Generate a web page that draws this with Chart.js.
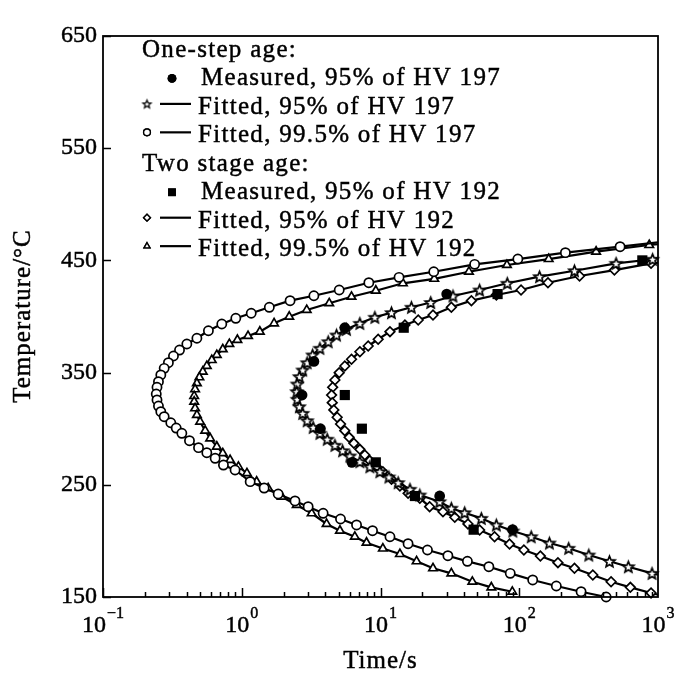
<!DOCTYPE html>
<html>
<head>
<meta charset="utf-8">
<script src="https://cdn.jsdelivr.net/npm/chart.js@4.4.0/dist/chart.umd.min.js"></script>
<style>
  html, body { margin: 0; padding: 0; background: #fff; }
  #wrap { width: 692px; height: 679px; }
</style>
</head>
<body>
<div id="wrap"><canvas id="ttt"></canvas></div>
<script>
// ticks
const timeTicks = [0.1, 1, 10, 100, 1000];
const timeExp = ['\u22121', '0', '1', '2', '3'];
const tempTicks = [150, 250, 350, 450, 550, 650];

// one-step age, measured 95% of HV 197
const meas197T = [420, 390, 360, 330, 300, 270, 240, 210];
const meas197t = [30.0, 5.53, 3.31, 2.72, 3.69, 6.22, 26.7, 89.5];

// two stage age, measured 95% of HV 192
const meas192T = [450, 420, 390, 330, 300, 270, 240, 210];
const meas192t = [771, 69.8, 14.7, 5.53, 7.34, 9.25, 17.7, 46.9];

// fitted 95% of HV 197 (stars)
const fit95_197T = [452, 451.0, 447.4, 440.8, 435.5, 429.6, 423.6, 418.3, 412.5, 408.2, 403.4, 399.3, 393.9, 388.6, 383.5, 377.5, 371.7, 365.7, 358.8, 352.3, 346.4, 339.8, 333.0, 326.2, 319.6, 313.7, 307.1, 301.2, 295.9, 290.6, 285.2, 280.4, 275.7, 270.6, 266.1, 261.7, 257.0, 251.9, 246.0, 240.9, 234.9, 229.1, 225.1, 220.1, 214.2, 208.8, 203.7, 198.1, 193.4, 187.4, 181.8, 177.0, 171.1, 169.8];
const fit95_197t = [1000, 914, 499, 250, 140, 82.0, 51.8, 33.3, 23.0, 16.7, 12.0, 9.10, 7.10, 5.69, 4.82, 4.20, 3.66, 3.24, 2.96, 2.75, 2.60, 2.51, 2.49, 2.51, 2.60, 2.75, 2.96, 3.27, 3.66, 4.13, 4.69, 5.33, 6.01, 7.10, 8.38, 9.89, 11.5, 13.4, 16.3, 19.2, 26.7, 32.4, 40.4, 53.3, 68.4, 89.9, 122, 165, 227, 317, 447, 611, 906, 1000];

// fitted 99.5% of HV 197 (circles)
const fit995_197T = [466, 462.2, 456.9, 451.2, 446.5, 439.9, 434.9, 430.1, 423.6, 418.5, 414.1, 408.2, 402.9, 398.4, 393.3, 387.3, 380.6, 375.5, 370.1, 364.8, 358.8, 353.8, 347.9, 341.9, 336.9, 330.9, 325.6, 320.2, 315.2, 310.7, 305.3, 300.6, 295.9, 289.3, 283.1, 278.6, 273.6, 267.6, 263.2, 252.8, 247.1, 241.8, 235.6, 230.5, 224.6, 219.5, 214.2, 209.1, 203.7, 197.5, 191.9, 186.8, 181.8, 177.0, 171.1, 165.2, 159.8, 154.7, 150];
const fit995_197t = [1000, 533, 215, 97.7, 47.7, 24.2, 13.6, 8.24, 5.04, 3.31, 2.23, 1.58, 1.17, 0.906, 0.718, 0.575, 0.475, 0.402, 0.356, 0.322, 0.296, 0.276, 0.261, 0.251, 0.245, 0.242, 0.245, 0.251, 0.261, 0.276, 0.308, 0.337, 0.370, 0.420, 0.488, 0.560, 0.643, 0.738, 0.895, 1.15, 1.45, 1.83, 2.42, 3.01, 3.86, 5.15, 6.72, 8.76, 11.7, 15.8, 21.8, 30.6, 42.3, 60.4, 86.1, 125, 185, 279, 423];

// fitted 95% of HV 192 (diamonds)
const fit95_192T = [448, 447.4, 441.4, 436.1, 430.1, 423.6, 419.2, 414.1, 408.2, 401.3, 396.9, 392.4, 386.5, 379.7, 373.7, 368.6, 361.9, 355.9, 349.9, 343.4, 336.9, 330.0, 323.2, 316.7, 310.2, 304.2, 298.2, 292.3, 287.0, 281.6, 276.6, 271.5, 266.1, 261.7, 254.9, 248.9, 242.4, 238.0, 230.5, 226.0, 221.0, 215.1, 209.7, 203.7, 197.2, 191.9, 186.5, 180.6, 175.6, 169.6, 163.6, 158.6, 153.6, 152.0];
const fit95_192t = [1000, 891, 485, 272, 161, 103, 68.4, 45.2, 32.4, 23.9, 18.7, 15.0, 11.7, 9.62, 8.15, 7.10, 6.18, 5.53, 5.04, 4.69, 4.52, 4.44, 4.49, 4.61, 4.87, 5.15, 5.53, 5.94, 6.43, 7.10, 7.71, 8.38, 9.36, 10.4, 12.0, 13.8, 15.8, 19.2, 22.6, 28.2, 34.3, 42.7, 51.8, 66.4, 85.1, 108, 142, 190, 250, 339, 459, 632, 891, 1000];

// fitted 99.5% of HV 192 (triangles)
const fit995_192T = [464.4, 463.7, 457.8, 451.2, 445.9, 439.9, 433.6, 429.6, 423.0, 417.6, 411.8, 405.8, 399.8, 393.9, 386.5, 382.6, 379.1, 375.5, 370.8, 365.7, 361.2, 355.9, 350.8, 345.8, 340.5, 335.1, 329.1, 324.1, 318.2, 312.2, 306.2, 298.2, 291.4, 284.0, 278.1, 272.1, 266.1, 260.3, 252.8, 246.9, 239.4, 232.0, 224.6, 215.1, 209.1, 203.7, 198.4, 193.2, 188.3, 181.8, 175.6, 171.1, 163.6, 158.6, 154.7];
const fit995_192t = [1000, 865, 358, 163, 81.5, 43.4, 24.4, 14.5, 9.25, 6.18, 4.27, 2.94, 2.20, 1.71, 1.35, 1.11, 0.930, 0.814, 0.730, 0.661, 0.608, 0.560, 0.524, 0.495, 0.475, 0.461, 0.454, 0.454, 0.461, 0.475, 0.501, 0.545, 0.592, 0.661, 0.730, 0.824, 0.946, 1.09, 1.28, 1.55, 1.94, 2.49, 3.19, 4.09, 5.10, 6.53, 7.93, 10.4, 13.8, 18.2, 23.9, 32.4, 45.9, 62.9, 89.1];

const SERIF = "'Liberation Serif', 'Times New Roman', serif";

function pts(T, t) { return T.map((v, i) => ({ x: t[i], y: v })); }

// open five-point star marker
function starImage(r, lw) {
  const size = Math.ceil(r * 2 + lw * 2 + 2);
  const c = document.createElement('canvas');
  c.width = c.height = size;
  const g = c.getContext('2d');
  const cx = size / 2, cy = size / 2 + r * 0.1;
  g.beginPath();
  for (let i = 0; i < 10; i++) {
    const a = -Math.PI / 2 + i * Math.PI / 5;
    const rr = i % 2 ? r * 0.45 : r;
    g.lineTo(cx + rr * Math.cos(a), cy + rr * Math.sin(a));
  }
  g.closePath();
  g.fillStyle = '#fff';
  g.fill();
  g.lineWidth = lw;
  g.lineJoin = 'miter';
  g.strokeStyle = '#000';
  g.stroke();
  return c;
}
const starBig = starImage(5.8, 1.7);
const starSmall = starImage(4.2, 1.3);

const edgeHide = r => (c) => (c.raw && c.raw.x >= 1000 ? 0 : r);

function fitted(label, T, t, style, radius) {
  return {
    label, data: pts(T, t), showLine: true,
    borderColor: '#000', borderWidth: 2.2,
    pointStyle: style, pointRadius: edgeHide(radius),
    pointBorderColor: '#000', pointBackgroundColor: '#fff', pointBorderWidth: 1.7,
    clip: false
  };
}

const legendRows = [
  { text: 'One-step age:' },
  { text: 'Measured, 95% of HV 197', mark: 'circle', fill: true },
  { text: 'Fitted, 95% of HV 197', mark: 'star', line: true },
  { text: 'Fitted, 99.5% of HV 197', mark: 'circle', line: true },
  { text: 'Two stage age:' },
  { text: 'Measured, 95% of HV 192', mark: 'rect', fill: true },
  { text: 'Fitted, 95% of HV 192', mark: 'rectRot', line: true },
  { text: 'Fitted, 99.5% of HV 192', mark: 'triangle', line: true }
];

// text a little heavier, like the printed figure
function heavyText(ctx, s, x, y) {
  ctx.fillText(s, x, y);
  ctx.lineWidth = 0.45;
  ctx.strokeText(s, x, y);
}

const frame = {
  id: 'frame',
  afterDraw(chart) {
    const { ctx, chartArea: a, scales: { x, y } } = chart;
    ctx.save();
    ctx.strokeStyle = '#000';
    ctx.fillStyle = '#000';

    // box
    ctx.lineWidth = 1.8;
    ctx.strokeRect(a.left, a.top, a.right - a.left, a.bottom - a.top);

    // inward ticks
    ctx.lineWidth = 1.5;
    ctx.beginPath();
    tempTicks.forEach(v => {
      const py = Math.round(y.getPixelForValue(v)) + 0.5;
      ctx.moveTo(a.left, py); ctx.lineTo(a.left + 8, py);
    });
    for (let d = 0.1; d < 999; d *= 10) {
      for (let k = 1; k < 10; k++) {
        const px = Math.round(x.getPixelForValue(d * k)) + 0.5;
        ctx.moveTo(px, a.bottom); ctx.lineTo(px, a.bottom - (k === 1 ? 9 : 5));
      }
    }
    ctx.stroke();

    // x tick labels 10^n
    ctx.textBaseline = 'alphabetic';
    ctx.textAlign = 'left';
    timeTicks.forEach((v, i) => {
      const px = x.getPixelForValue(v);
      ctx.font = '24px ' + SERIF;
      const w1 = ctx.measureText('10').width;
      ctx.font = '16px ' + SERIF;
      const w2 = ctx.measureText(timeExp[i]).width;
      const sx = px - (w1 + w2 + 1) / 2;
      ctx.font = '24px ' + SERIF;
      heavyText(ctx, '10', sx, 632);
      ctx.font = '16px ' + SERIF;
      heavyText(ctx, timeExp[i], sx + w1 + 1, 618);
    });

    // axis titles
    ctx.font = '25px ' + SERIF;
    ctx.letterSpacing = '1px';
    ctx.textAlign = 'center';
    ctx.textBaseline = 'middle';
    heavyText(ctx, 'Time/s', (a.left + a.right) / 2, 661);
    ctx.save();
    ctx.translate(23, 316);
    ctx.rotate(-Math.PI / 2);
    heavyText(ctx, 'Temperature/\u00b0C', 0, 0);
    ctx.restore();

    // legend
    ctx.textAlign = 'left';
    ctx.textBaseline = 'alphabetic';
    ctx.letterSpacing = '1.3px';
    ctx.font = '25px ' + SERIF;
    legendRows.forEach((row, i) => {
      const base = 57 + i * 28.45;
      if (!row.mark) {
        heavyText(ctx, row.text, 142, base);
        return;
      }
      heavyText(ctx, row.text, row.line ? 198 : 201, base);
      if (row.fill) {
        ctx.fillStyle = '#000';
        Chart.helpers.drawPoint(ctx, { pointStyle: row.mark, radius: row.mark === 'rect' ? 5.5 : 4.4, borderWidth: 0, rotation: 0 }, 172, base - 7);
        ctx.fill();
      } else {
        const my = base - 10;
        ctx.lineWidth = 2.2;
        ctx.beginPath(); ctx.moveTo(160, my); ctx.lineTo(191, my); ctx.stroke();
        if (row.mark === 'star') {
          ctx.drawImage(starSmall, 147 - starSmall.width / 2, my - starSmall.height / 2);
        } else {
          ctx.fillStyle = '#fff';
          ctx.lineWidth = 1.4;
          Chart.helpers.drawPoint(ctx, { pointStyle: row.mark, radius: 3.4, borderWidth: 1.4, rotation: 0 }, 147, my);
          ctx.fill(); ctx.stroke();
        }
        ctx.fillStyle = '#000';
      }
    });
    ctx.restore();
  }
};

new Chart(document.getElementById('ttt'), {
  type: 'scatter',
  data: {
    datasets: [
      { label: 'Measured, 95% of HV 197', data: pts(meas197T, meas197t), pointStyle: 'circle', pointRadius: 5.4,
        backgroundColor: '#000', borderColor: '#000', borderWidth: 0, clip: false },
      { label: 'Measured, 95% of HV 192', data: pts(meas192T, meas192t), pointStyle: 'rect', pointRadius: 7.2,
        backgroundColor: '#000', borderColor: '#000', borderWidth: 0, clip: false },
      fitted('Fitted, 95% of HV 197', fit95_197T, fit95_197t, starBig, 6),
      fitted('Fitted, 99.5% of HV 197', fit995_197T, fit995_197t, 'circle', 4.6),
      fitted('Fitted, 95% of HV 192', fit95_192T, fit95_192t, 'rectRot', 4.8),
      fitted('Fitted, 99.5% of HV 192', fit995_192T, fit995_192t, 'triangle', 4.9)
    ]
  },
  options: {
    responsive: true,
    maintainAspectRatio: false,
    animation: false,
    events: [],
    layout: { padding: { top: 36, right: 34, left: 0, bottom: 0 } },
    plugins: { legend: { display: false }, tooltip: { enabled: false } },
    scales: {
      x: {
        type: 'logarithmic', min: 0.1, max: 1000,
        grid: { display: false, drawTicks: false }, border: { display: false },
        ticks: { display: false },
        afterFit(s) { s.height = 82; }
      },
      y: {
        min: 150, max: 650,
        grid: { display: false, drawTicks: false }, border: { display: false },
        afterBuildTicks(s) { s.ticks = tempTicks.map(v => ({ value: v })); },
        ticks: { color: '#000', font: { family: SERIF, size: 24 }, padding: 6,
                 textStrokeColor: '#000', textStrokeWidth: 0.45 },
        afterFit(s) { s.width = 103; }
      }
    }
  },
  plugins: [frame]
});
</script>
</body>
</html>
